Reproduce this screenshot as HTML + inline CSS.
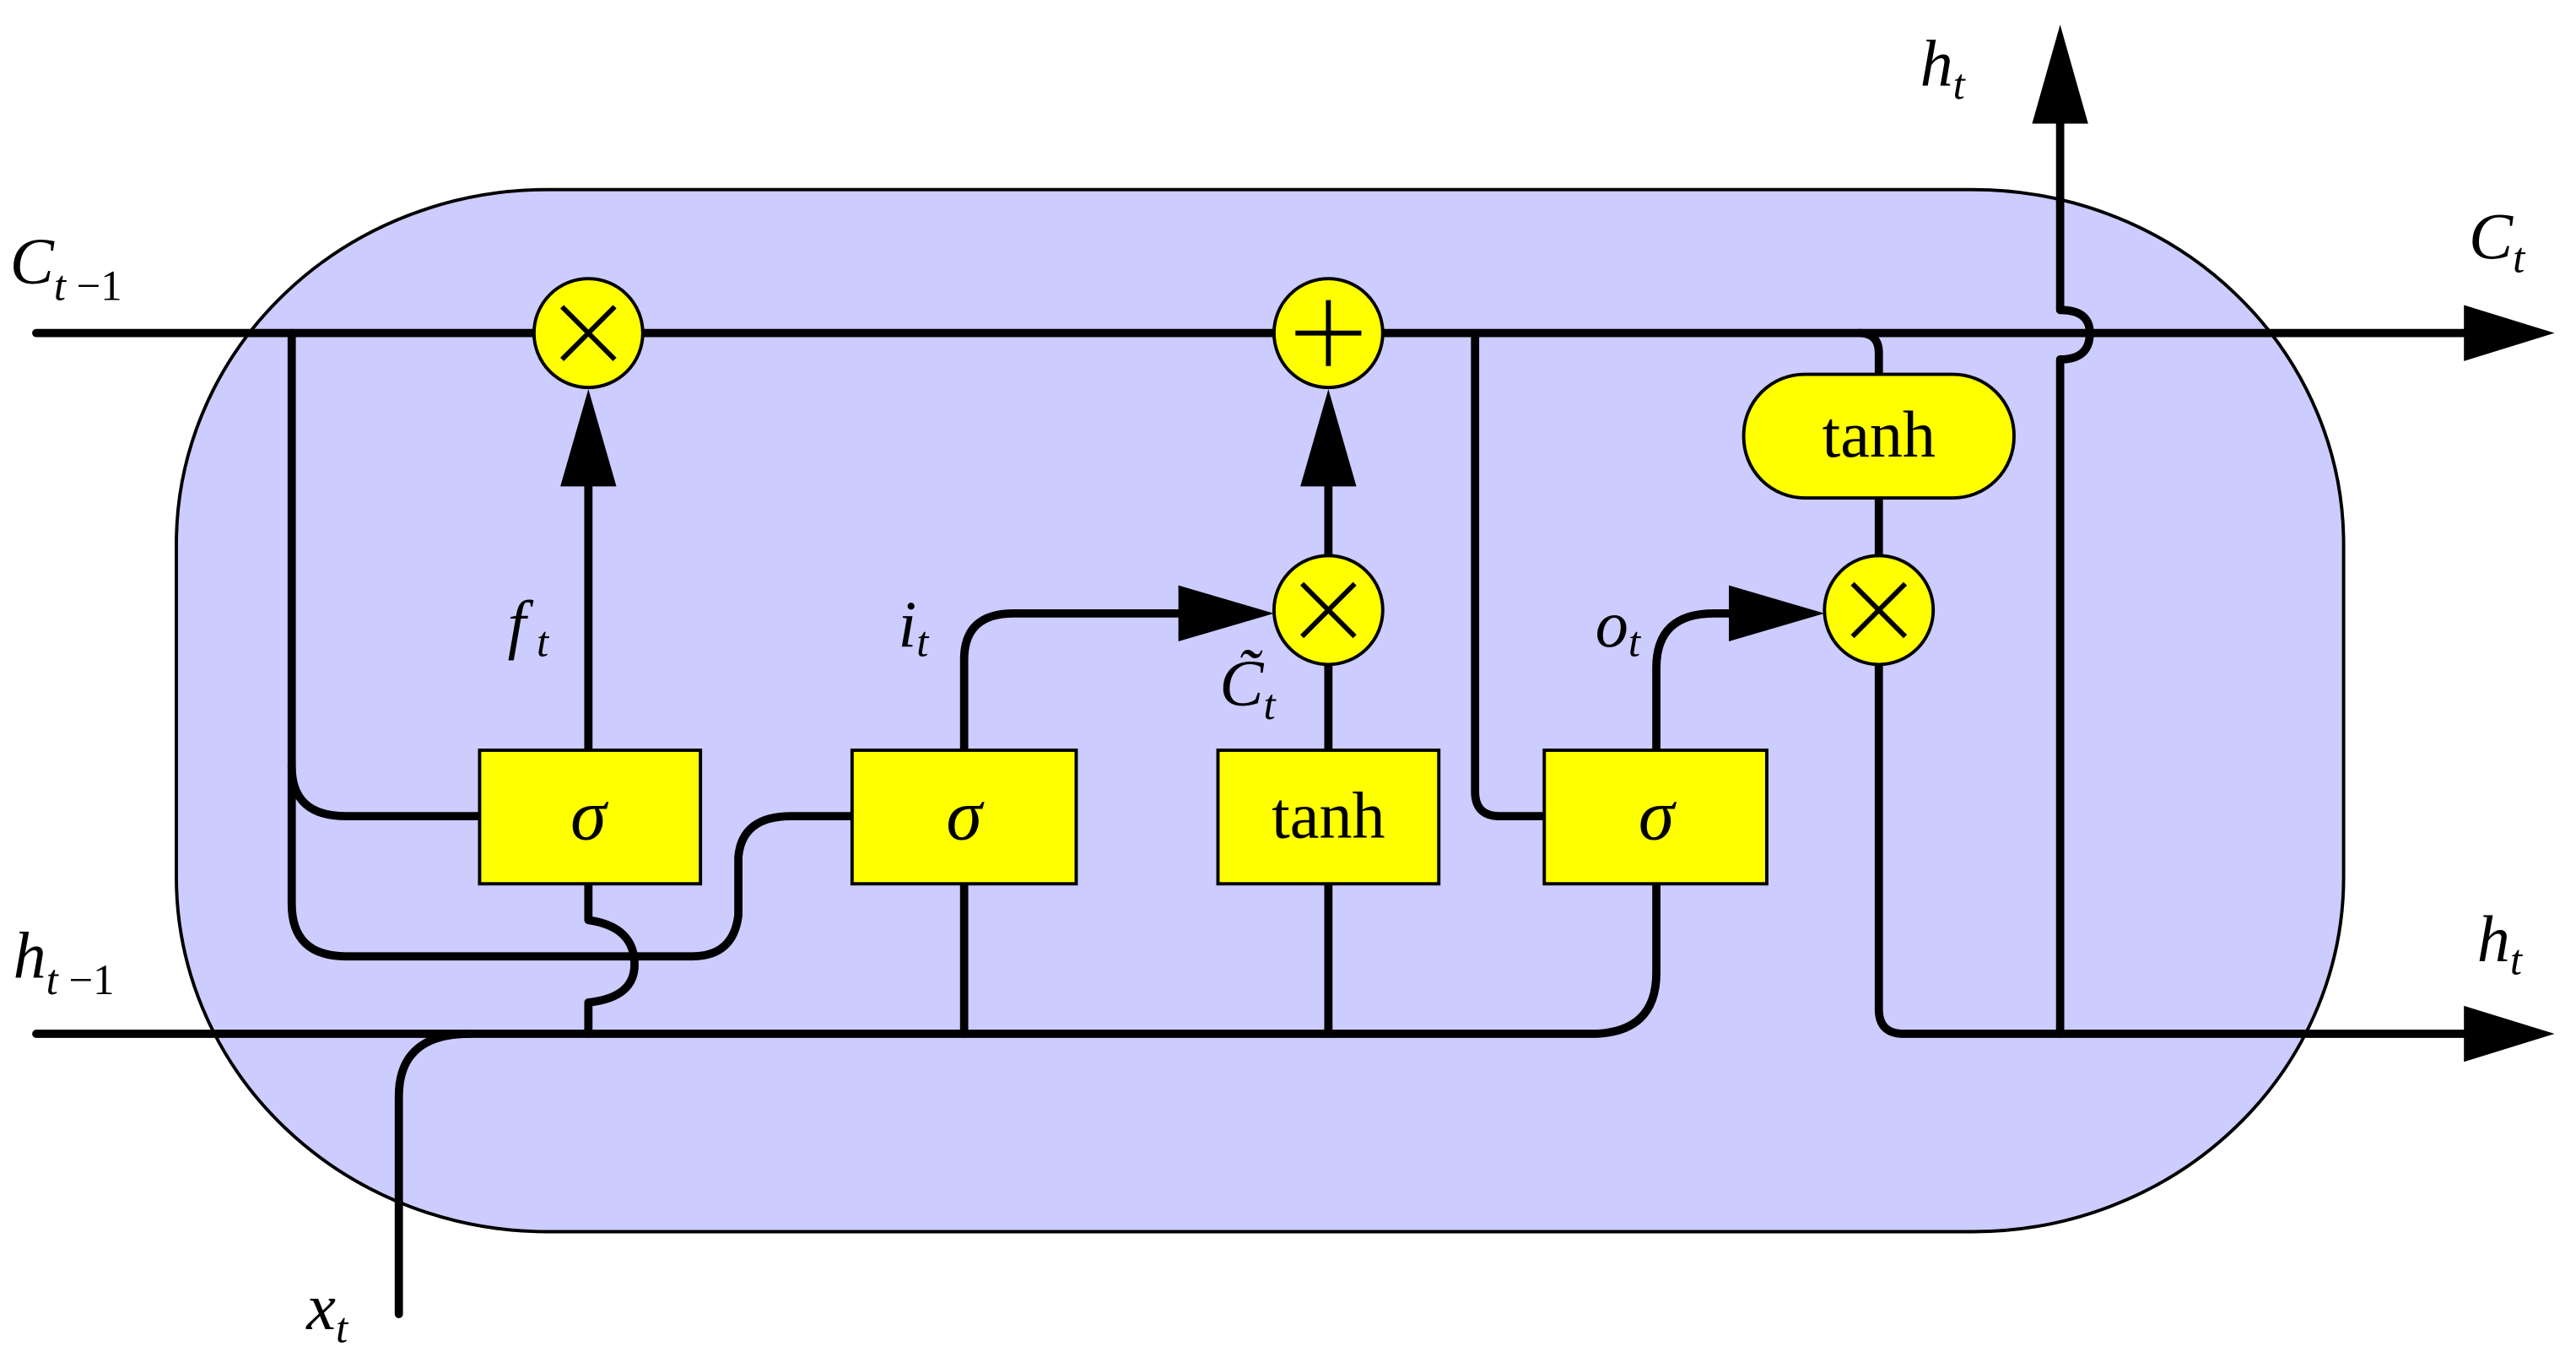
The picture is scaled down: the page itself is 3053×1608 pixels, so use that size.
<!DOCTYPE html>
<html><head><meta charset="utf-8"><style>html,body{margin:0;padding:0;background:#fff}svg{display:block}</style></head>
<body>
<svg width="3053" height="1608" viewBox="0 0 1563 823" preserveAspectRatio="none" xmlns="http://www.w3.org/2000/svg">
<rect x="107" y="115" width="1315" height="632" rx="225" ry="215" fill="#ccccff" stroke="#000" stroke-width="2"/>
<g fill="none" stroke="#000" stroke-width="5" stroke-linecap="round" stroke-linejoin="round">
<path d="M22 202 H1500"/>
<path d="M22 627 H965 Q1005 627 1005 590 V536"/>
<path d="M1140 403 V612 Q1140 627 1155 627 H1500"/>
<path d="M1250 627 V218 Q1268 218 1268 202 Q1268 188 1250 188 V70"/>
<path d="M242 797 V665 Q242 627 285 627"/>
<path d="M177 202 V548 Q177 580 210 580 H420 Q445 580 448 555 V520 Q450 495 480 495 H517"/>
<path d="M177 465 Q177 495 210 495 H291"/>
<path d="M357 536 V558 Q385 562 385 585 Q385 605 357 608 V627"/>
<path d="M585 536 V627 M806 536 V627"/>
<path d="M357 455 V290"/>
<path d="M585 455 V400 Q585 372 615 372 H720"/>
<path d="M806 455 V403 M806 337 V290"/>
<path d="M1005 455 V405 Q1005 372 1040 372 H1055"/>
<path d="M895 202 V480 Q895 495 910 495 H937"/>
<path d="M1128 202 Q1140 202 1140 214 V227 M1140 302 V337"/>
</g>
<g fill="#000">
<polygon points="357,236 340,295 374,295"/>
<polygon points="806,236 789,295 823,295"/>
<polygon points="773,372 715,355 715,389"/>
<polygon points="1107,372 1049,355 1049,389"/>
<polygon points="1550,202 1495,185 1495,219"/>
<polygon points="1550,627 1495,610 1495,644"/>
<polygon points="1250,15 1233,75 1267,75"/>
</g>
<g stroke="#000" stroke-width="2" fill="#ffff00">
<circle cx="357" cy="202" r="33"/>
<circle cx="806" cy="202" r="33"/>
<circle cx="806" cy="370" r="33"/>
<circle cx="1140" cy="370" r="33"/>
<rect x="291" y="455" width="134" height="81"/>
<rect x="517" y="455" width="136" height="81"/>
<rect x="739" y="455" width="134" height="81"/>
<rect x="937" y="455" width="135" height="81"/>
<rect x="1058" y="227" width="164" height="75" rx="37" ry="37"/>
</g>
<g stroke="#000" stroke-width="3" fill="none">
<path d="M341 186 L373 218 M373 186 L341 218"/>
<path d="M790 354 L822 386 M822 354 L790 386"/>
<path d="M1124 354 L1156 386 M1156 354 L1124 386"/>
<path d="M806 182 V222 M786 202 H826"/>
</g>
<g font-family="Liberation Serif, serif" text-anchor="middle" fill="#000">
<text x="357" y="509" font-style="italic" font-size="44">σ</text>
<text x="585" y="509" font-style="italic" font-size="44">σ</text>
<text x="1005" y="509" font-style="italic" font-size="44">σ</text>
<text x="806" y="508" font-size="40">tanh</text>
<text x="1140" y="277" font-size="40">tanh</text>
</g>
<g font-family="Liberation Serif, serif" font-style="italic" fill="#000" font-size="40">
<text x="6" y="172">C<tspan font-size="26" dy="10">t</tspan><tspan font-size="26" font-style="normal"> −1</tspan></text>
<text x="8" y="593">h<tspan font-size="26" dy="10">t</tspan><tspan font-size="26" font-style="normal"> −1</tspan></text>
<text x="1165" y="52">h<tspan font-size="26" dy="8">t</tspan></text>
<text x="1498" y="157">C<tspan font-size="26" dy="8">t</tspan></text>
<text x="1503" y="583">h<tspan font-size="26" dy="8">t</tspan></text>
<text x="186" y="806">x<tspan font-size="26" dy="8">t</tspan></text>
<text x="308" y="392">f<tspan font-size="26" dy="6"> t</tspan></text>
<text x="545" y="392">i<tspan font-size="26" dy="6">t</tspan></text>
<text x="968" y="392">o<tspan font-size="26" dy="6">t</tspan></text>
<text x="740" y="428">C̃<tspan font-size="26" dy="8">t</tspan></text>
</g>
</svg>
</body></html>
